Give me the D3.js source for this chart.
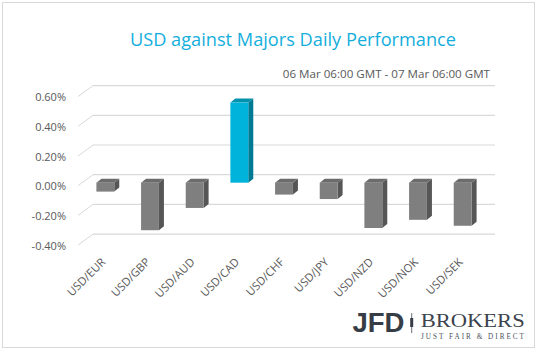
<!DOCTYPE html>
<html><head><meta charset="utf-8">
<script src="https://cdn.jsdelivr.net/npm/d3@7"></script>
<style>
html,body{margin:0;padding:0;background:#fff;}
svg{display:block;}
</style></head>
<body>
<svg id="chart" width="538" height="351"></svg>
<script>
const categories = ["USD/EUR","USD/GBP","USD/AUD","USD/CAD","USD/CHF","USD/JPY","USD/NZD","USD/NOK","USD/SEK"];
const values = [-0.06, -0.32, -0.17, 0.54, -0.08, -0.11, -0.305, -0.25, -0.29];
const yTicks = [-0.4, -0.2, 0, 0.2, 0.4, 0.6];
const highlight = "USD/CAD";
const titleText = "USD against Majors Daily Performance";
const subtitleText = "06 Mar 06:00 GMT - 07 Mar 06:00 GMT";

const svg = d3.select("#chart");

svg.append("rect").attr("x",2.5).attr("y",2.5).attr("width",532).attr("height",345)
  .attr("fill","#fff").attr("stroke","#d9d9d9").attr("stroke-width",1);

svg.append("text").attr("x",293).attr("y",46).attr("text-anchor","middle")
  .attr("font-family","'Open Sans', sans-serif").attr("font-size",18.2)
  .attr("fill","#14aedc").text(titleText);

svg.append("text").attr("x",490).attr("y",78.3).attr("text-anchor","end")
  .attr("font-family","'Open Sans', sans-serif").attr("font-size",11.6)
  .attr("fill","#595959").text(subtitleText);

const x = d3.scaleBand().domain(categories).range([83, 485]).paddingInner(0.6).paddingOuter(0.3);
const y = d3.scaleLinear().domain([-0.4, 0.6]).range([242.1, 93.6]);

const backDy = -8, wallX0 = 93, wallX1 = 495, frontX = 78, frontDy = 3;

const grid = svg.append("g");
yTicks.forEach(t => {
  const yb = y(t) + backDy;
  grid.append("line").attr("x1",wallX0).attr("x2",wallX1).attr("y1",yb).attr("y2",yb)
    .attr("stroke","#d9d9d9").attr("stroke-width",1.2);
  grid.append("line").attr("x1",wallX0).attr("y1",yb).attr("x2",frontX).attr("y2",y(t)+frontDy)
    .attr("stroke","#d9d9d9").attr("stroke-width",1);
});

const yAxis = svg.append("g").attr("transform","translate(66,3.5)")
  .call(d3.axisLeft(y).tickValues(yTicks).tickSize(0).tickPadding(0)
    .tickFormat(v => v.toFixed(2) + "%"));
yAxis.select(".domain").remove();
yAxis.selectAll("text").attr("font-family","'Open Sans', sans-serif").attr("font-size",11).attr("fill","#595959");

const xAxis = svg.append("g").attr("transform","translate(0,260)")
  .call(d3.axisBottom(x).tickSize(0).tickPadding(0));
xAxis.select(".domain").remove();
xAxis.selectAll("text")
  .attr("font-family","'Open Sans', sans-serif").attr("font-size",11.3).attr("fill","#595959")
  .attr("text-anchor","end").attr("y",0).attr("dy","0.35em")
  .attr("transform","translate(-2,0) rotate(-45)");

const dx = 5, dy = -4;
const bw = x.bandwidth();
const colors = {
  gray: {front:"#7f7f7f", top:"#6c6c6c", side:"#565656"},
  cyan: {front:"#00b3db", top:"#0091ad", side:"#007a93"}
};
const bars = svg.append("g");
categories.forEach((c, i) => {
  const v = values[i];
  const col = c === highlight ? colors.cyan : colors.gray;
  const x0 = x(c), x1 = x0 + bw;
  const yt = y(Math.max(v, 0)), yb = y(Math.min(v, 0));
  bars.append("polygon")
    .attr("points", [[x1,yt],[x1+dx,yt+dy],[x1+dx,yb+dy],[x1,yb]].map(p=>p.join(",")).join(" "))
    .attr("fill", col.side);
  bars.append("polygon")
    .attr("points", [[x0,yt],[x0+dx,yt+dy],[x1+dx,yt+dy],[x1,yt]].map(p=>p.join(",")).join(" "))
    .attr("fill", col.top);
  bars.append("rect").attr("x",x0).attr("y",yt).attr("width",bw).attr("height",yb-yt)
    .attr("fill", col.front);
});

const logo = svg.append("g");
logo.append("text").attr("x",352.5).attr("y",332.3)
  .attr("font-family","'Liberation Sans', Arial, sans-serif").attr("font-weight","bold")
  .attr("font-size",27).attr("fill","#373d46")
  .attr("textLength",52).attr("lengthAdjust","spacingAndGlyphs").text("JFD");
logo.append("rect").attr("x",411.2).attr("y",313).attr("width",1).attr("height",20).attr("fill","#6a7079");
logo.append("rect").attr("x",410.2).attr("y",318).attr("width",3).attr("height",9).attr("fill","#373d46");
logo.append("text").attr("x",420.7).attr("y",327.3)
  .attr("font-family","'Liberation Serif', 'DejaVu Serif', serif")
  .attr("font-size",19.5).attr("fill","#3c434d")
  .attr("textLength",104).attr("lengthAdjust","spacingAndGlyphs").text("BROKERS");
logo.append("text").attr("x",421).attr("y",339.3)
  .attr("font-family","'Liberation Serif', 'DejaVu Serif', serif")
  .attr("font-size",7.2).attr("fill","#4a515b")
  .attr("textLength",103).attr("lengthAdjust","spacing").text("JUST FAIR & DIRECT");
</script>
</body></html>
